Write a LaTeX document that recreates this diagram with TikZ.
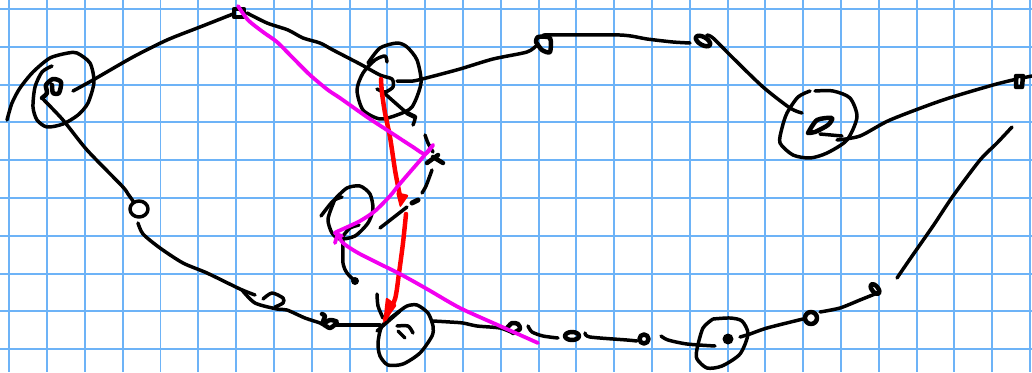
\documentclass[tikz,border=0pt]{standalone}
\definecolor{gridblue}{HTML}{6DB3F7}
\definecolor{inkmag}{HTML}{F200F0}
\tikzset{
  gridline/.style={gridblue,line width=2},
  ink/.style={black,line width=3.5,line cap=round,line join=round},
  heavy/.style={black,line width=4.5,line cap=round,line join=round},
  redink/.style={red,line width=4.5,line cap=round,line join=round},
  magink/.style={inkmag,line width=3.8,line cap=round,line join=round},
  sm/.style={smooth,tension=0.45}
}
\newcommand{\stroke}[2][ink]{\draw[#1] plot[sm] coordinates {#2};}
\begin{document}
\begin{tikzpicture}[x=1bp,y=-1bp]
\useasboundingbox (0,0) rectangle (1032,372);
\fill[white] (0,0) rectangle (1032,372);
\foreach \k in {0,...,27} \draw[gridline] ({9.3+37.8*\k},0) -- ({9.3+37.8*\k},372);
\foreach \k in {0,...,9} \draw[gridline] (0,{9+37.8*\k}) -- (1032,{9+37.8*\k});
% left big circle
\stroke{(7,120)(12,103)(20,88)(33,72)(50,58)(68,53)(77,53)(90,63)(94,82)(88,103)(78,115)(63,124)(47,127)(37,120)(33,107)(35,87)(42,72)(52,66)}
\stroke[heavy]{(42,98)(47,93)(46,85)(53,79)(61,82)(59,93)(53,93)(52,85)}
\stroke{(42,98)(63,120)(87,150)(122,186)(128,194)(133,201)}
\draw[ink] (139,209) circle [x radius=9,y radius=8];
\stroke{(138,223)(143,234)(160,248)(183,263)(207,273)(240,289)(255,295)}
\stroke{(242,290)(255,303)(277,309)(287,310)(305,318)(320,323)(325,326)}
\stroke{(263,299)(272,293)(283,298)(283,303)(275,307)}
\stroke[heavy]{(322,314)(325,316)(323,323)(330,328)(337,322)(330,320)(325,323)}
\stroke{(73,91)(93,80)(133,57)(167,40)(200,27)(233,14)}
\draw[heavy] (234,9) rectangle (244,17);
\stroke{(247,13)(267,23)(288,30)(303,38)(320,43)(333,50)(360,64)(380,75)(392,79)(393,87)(385,92)(377,89)}
\stroke{(383,92)(407,113)(415,117)(413,125)}
\draw[heavy] (407,113) -- (415,117);
\stroke{(397,81)(413,81)(430,77)(460,69)(493,59)(527,52)(537,45)}
% second big circle
\stroke{(387,62)(385,56)(375,60)(363,73)(357,90)(363,110)(380,119)(397,115)(412,107)(421,83)(417,60)(407,47)(397,43)(380,48)(368,63)}
% top right line
\stroke[heavy]{(536,42)(538,37)(550,38)(550,52)(542,50)(536,42)}
\stroke{(543,35)(620,35)(647,39)(673,42)(690,43)}
\draw[heavy,rotate around={-30:(703,41)}] (703,41) ellipse [x radius=8,y radius=4];
\stroke{(707,35)(713,38)(733,58)(763,87)(790,108)(802,113)}
\stroke{(810,91)(798,97)(787,113)(782,128)(780,143)(793,155)(810,158)(827,153)(847,140)(857,117)(850,98)(833,91)(815,91)}
\stroke[heavy]{(808,133)(817,120)(832,118)(828,125)(815,132)(808,133)}
\draw[ink] (820,134) -- (842,136);
\stroke{(837,140)(860,136)(890,120)(943,100)(993,85)(1017,79)}
\draw[heavy] (1016,76) -- (1016,87) -- (1022,87) -- (1023,76) -- cycle;
\draw[ink] (1022,78) -- (1032,76);
\stroke{(897,278)(910,259)(933,226)(953,196)(980,160)(997,143)(1012,127)}
% middle small circle
\stroke{(321,216)(333,201)(342,197)}
\stroke{(335,199)(347,188)(360,186)(370,194)(373,209)(368,223)(355,236)(340,239)(332,233)(328,219)(335,199)}
\stroke{(343,236)(350,228)(359,225)}
\stroke{(343,241)(343,263)(347,273)(355,281)}
\fill (355,281) circle (4);
\draw[ink] (380,228) -- (407,207);
\draw[heavy,line width=5] (412,203) -- (418,200);
\stroke{(422,193)(426,186)(432,170)}
\stroke{(425,135)(428,143)(433,152)}
\draw[heavy] (427,163) -- (438,155) (433,157) -- (443,163);
% bottom big circle
\stroke{(377,294)(378,306)(383,318)}
\stroke{(397,313)(407,306)(417,305)(428,313)(433,326)(432,336)(420,353)(403,364)(388,365)(380,356)(378,343)(382,326)(397,313)}
\draw[ink] (377,331) -- (400,311);
\draw[ink] (335,325) -- (380,325);
\stroke{(397,326)(408,326)(413,333)}
\stroke{(398,331)(405,338)}
\stroke{(433,321)(450,322)(463,323)(477,326)(500,328)(513,333)}
\stroke[heavy]{(507,328)(512,323)(518,324)(520,329)(513,333)}
\stroke{(528,326)(532,332)(543,336)(558,338)}
\draw[heavy] (572,336) ellipse [x radius=7,y radius=4];
\stroke{(585,333)(590,337)(627,340)(637,341)}
\draw[heavy] (644,339) circle (4.5);
\stroke{(661,336)(668,340)(687,344)(715,346)}
\stroke{(713,319)(703,328)(697,349)(697,359)(707,368)(722,366)(740,354)(748,334)(742,321)(730,318)(713,319)}
\fill (728,339) circle (5.5);
\stroke{(740,337)(750,334)(767,328)(803,319)}
\draw[heavy] (811,318) circle [x radius=6,y radius=6];
\stroke{(820,312)(840,308)(860,300)(875,294)}
\draw[heavy,rotate around={-50:(875,289)}] (875,289) ellipse [x radius=6,y radius=3];
% red
\stroke[redink]{(381,79)(382,93)(385,113)(390,137)(395,170)(398,186)(400,196)}
\fill[red,rounded corners=2] (396,192) -- (409,195) -- (400,208) -- cycle;
\stroke[redink]{(406,214)(403,243)(399,273)(395,299)(385,319)}
\fill[red,rounded corners=2] (386,297) -- (397,305) -- (383,324) -- cycle;
% magenta
\stroke[magink]{(238,6)(248,20)(263,32)(277,42)(293,58)(310,75)(328,90)(340,98)(367,117)(390,132)(413,147)(425,154)(433,145)}
\stroke[magink]{(433,145)(423,157)(410,172)(398,186)(390,196)(375,211)(360,221)(343,229)(335,233)(342,236)}
\stroke[magink]{(335,243)(338,235)(343,243)(360,254)(400,274)(427,289)(460,308)(500,326)(538,343)}
\end{tikzpicture}
\end{document}
